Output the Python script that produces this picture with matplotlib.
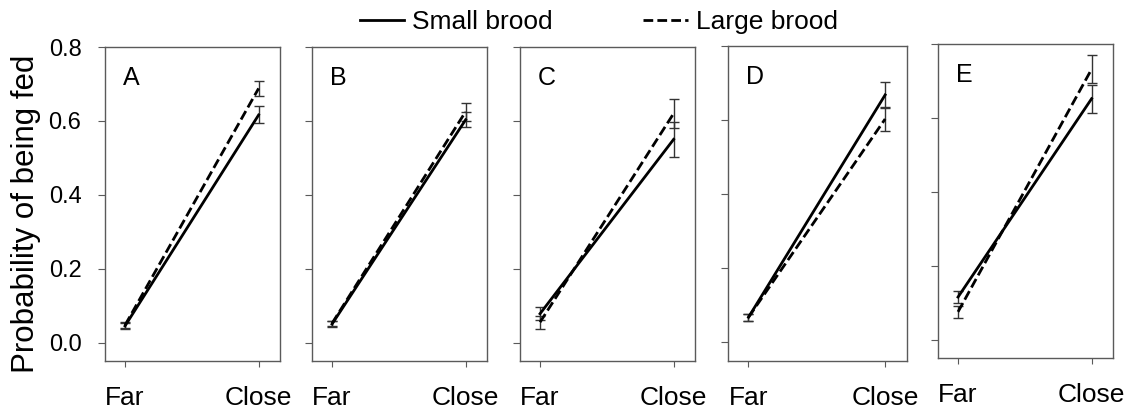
import matplotlib.pyplot as plt
from matplotlib.lines import Line2D

plt.rcParams['font.family'] = ['Liberation Sans', 'DejaVu Sans']

panels = ["A", "B", "C", "D", "E"]
x_labels = ["Far", "Close"]

# mean probability of being fed (Far, Close) and standard errors
small_mean = [[0.045, 0.616], [0.050, 0.603], [0.078, 0.550], [0.068, 0.668], [0.115, 0.652]]
small_err = [[0.008, 0.023], [0.007, 0.020], [0.018, 0.047], [0.010, 0.034], [0.016, 0.038]]
large_mean = [[0.047, 0.688], [0.052, 0.625], [0.055, 0.620], [0.068, 0.603], [0.075, 0.732]]
large_err = [[0.008, 0.020], [0.007, 0.024], [0.018, 0.038], [0.010, 0.033], [0.016, 0.038]]

# axes boxes in pixels: left, right, top, bottom
boxes = [(105, 280, 47, 361), (312, 487, 47, 361), (520, 695, 47, 361),
         (728, 907, 46, 361), (938, 1113, 44, 358)]
W, H = 1138, 412

fig = plt.figure(figsize=(W / 100, H / 100), dpi=100)
spine_col = "#5a5a5a"
dash = (3.5, 1.5)

for i, p in enumerate(panels):
    l, r, t, b = boxes[i]
    ax = fig.add_axes([l / W, 1 - b / H, (r - l) / W, (b - t) / H])
    xs = [0, 1]
    ax.errorbar(xs, small_mean[i], yerr=small_err[i], color="black", lw=2,
                ecolor="#333333", elinewidth=1, capsize=3.6, capthick=1)
    ax.errorbar(xs, large_mean[i], yerr=large_err[i], color="black", lw=2,
                dashes=dash, ecolor="#333333", elinewidth=1, capsize=3.6, capthick=1)
    ax.set_xlim(-0.15, 1.16)
    ax.set_ylim(-0.05, 0.8)
    ax.set_xticks(xs)
    ax.set_xticklabels(x_labels, fontsize=19)
    ax.set_yticks([0.0, 0.2, 0.4, 0.6, 0.8])
    ax.tick_params(axis="x", length=4, pad=14, color=spine_col)
    ax.tick_params(axis="y", length=5, pad=12, color=spine_col, labelsize=17)
    if i == 0:
        ax.set_yticklabels(["0.0", "0.2", "0.4", "0.6", "0.8"])
        ax.set_ylabel("Probability of being fed", fontsize=22.5)
        ax.yaxis.set_label_coords(-0.365, 0.468)
    else:
        ax.set_yticklabels([])
    for s in ax.spines.values():
        s.set_color(spine_col)
        s.set_linewidth(1)
    ax.text(0.1, 0.94, p, transform=ax.transAxes, fontsize=18, va="top", ha="left")

handles = [Line2D([], [], color="black", lw=2),
           Line2D([], [], color="black", lw=2, dashes=dash)]
fig.legend(handles, ["Small brood", "Large brood"], loc="center",
           bbox_to_anchor=(0.526, 0.947), ncol=2, frameon=False, fontsize=19,
           handlelength=1.7, handletextpad=0.3, columnspacing=3.4)

fig.savefig("out.png", dpi=100)
